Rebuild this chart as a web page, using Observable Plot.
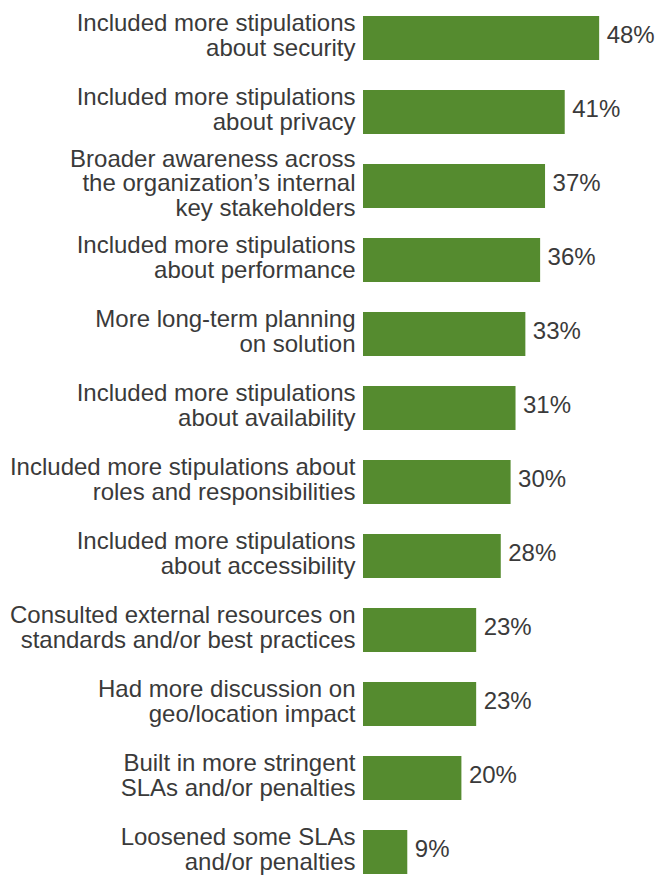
<!DOCTYPE html>
<html>
<head>
<meta charset="utf-8">
<script src="https://cdn.jsdelivr.net/npm/d3@7"></script>
<script src="https://cdn.jsdelivr.net/npm/@observablehq/plot@0.6"></script>
<style>
  html, body { margin: 0; padding: 0; background: #fff; }
  #chart svg { display: block; }
</style>
</head>
<body>
<div id="chart"></div>
<script>
const categories = [
  "Included more stipulations\nabout security",
  "Included more stipulations\nabout privacy",
  "Broader awareness across\nthe organization’s internal\nkey stakeholders",
  "Included more stipulations\nabout performance",
  "More long-term planning\non solution",
  "Included more stipulations\nabout availability",
  "Included more stipulations about\nroles and responsibilities",
  "Included more stipulations\nabout accessibility",
  "Consulted external resources on\nstandards and/or best practices",
  "Had more discussion on\ngeo/location impact",
  "Built in more stringent\nSLAs and/or penalties",
  "Loosened some SLAs\nand/or penalties"
];
const values = [48, 41, 37, 36, 33, 31, 30, 28, 23, 23, 20, 9];

const data = categories.map((c, i) => ({category: c, value: values[i]}));

const FONT = "'Liberation Sans', Arial, Helvetica, sans-serif";
const textColor = "#3a3a3a";

const chart = Plot.plot({
  width: 656,
  height: 880,
  marginTop: 10.5,
  marginBottom: 0,
  marginLeft: 363,
  marginRight: 47,
  style: {fontFamily: FONT, background: "#fff"},
  x: {domain: [0, 50], axis: null},
  y: {domain: categories, axis: null, paddingInner: 0.4, paddingOuter: 0.03},
  marks: [
    Plot.barX(data, {x: "value", y: "category", fill: "#558b2f"}),
    Plot.text(data, {
      x: 0, y: "category", text: "category",
      textAnchor: "end", dx: -8, dy: -3,
      fontSize: 24, lineHeight: 1.02, fill: textColor
    }),
    Plot.text(data, {
      x: "value", y: "category", text: d => d.value + "%",
      textAnchor: "start", dx: 7, dy: -3,
      fontSize: 24, fill: textColor
    })
  ]
});
document.getElementById("chart").appendChild(chart);
</script>
</body>
</html>
